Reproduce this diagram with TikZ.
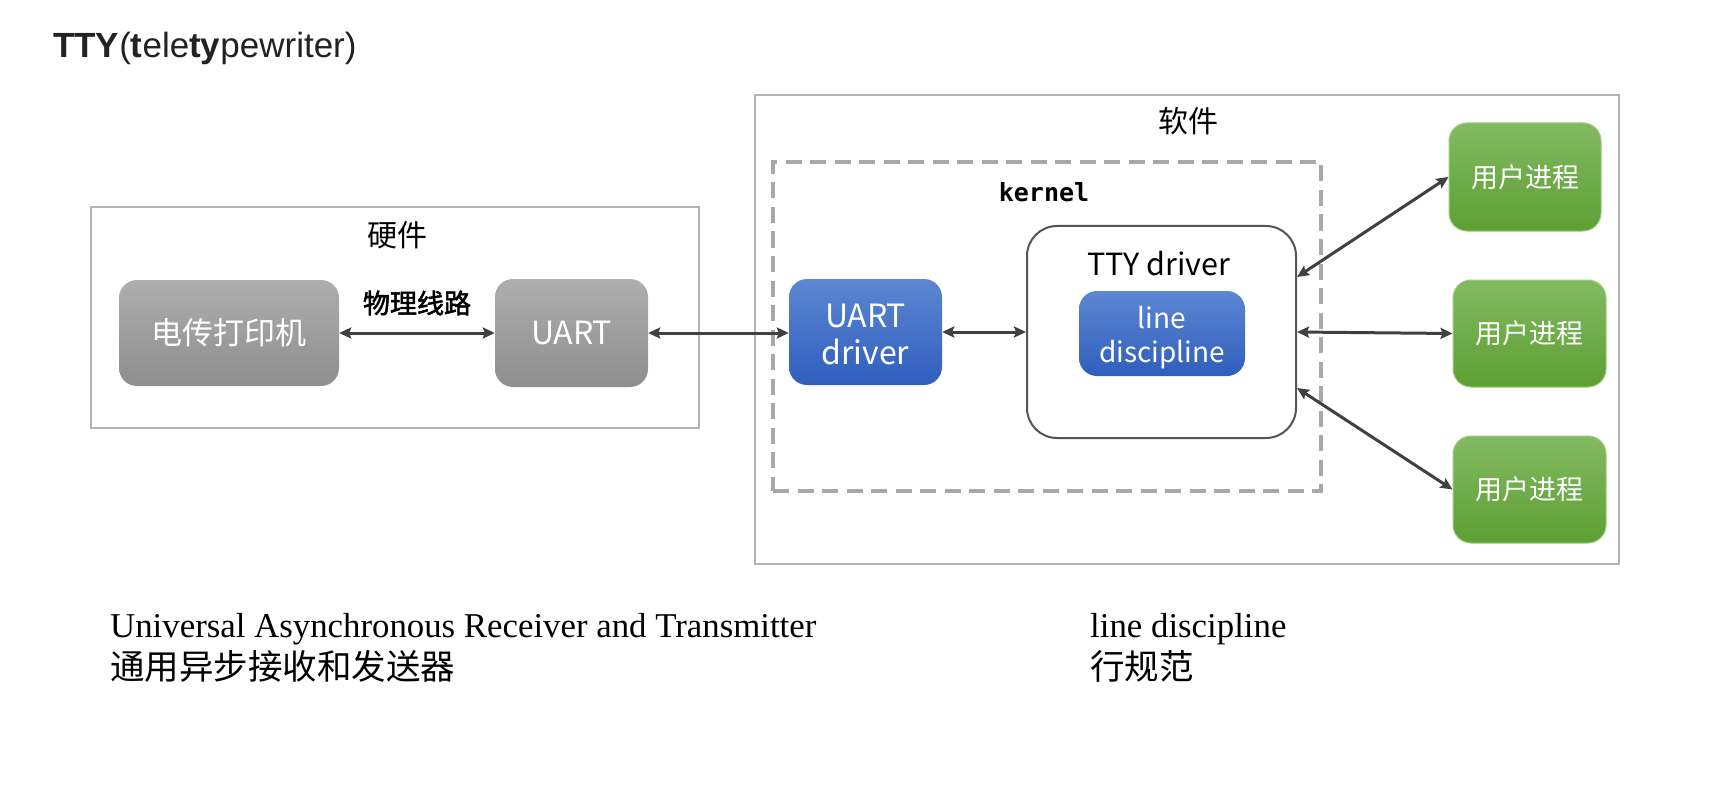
\documentclass[tikz,border=0pt]{standalone}
\usepackage{fontspec}
\setmainfont{Liberation Serif}
\newfontfamily\sansf{Liberation Sans}
\newfontfamily\cjk{Noto Sans CJK SC}
\newfontfamily\cjkfb{Noto Sans CJK SC}[FakeBold=2]
\newfontfamily\monof{DejaVu Sans Mono}
\usetikzlibrary{arrows.meta}
\definecolor{framegray}{HTML}{B4B4B4}
\definecolor{dashgray}{HTML}{A8A8A8}
\definecolor{gtop}{HTML}{AEAEAE}
\definecolor{gbot}{HTML}{8E8E8E}
\definecolor{btop}{HTML}{5D87D3}
\definecolor{bbot}{HTML}{2F5EBD}
\definecolor{ntop}{HTML}{82BA62}
\definecolor{nbot}{HTML}{5E9F33}
\definecolor{nedge}{HTML}{9CCB80}
\definecolor{ttyedge}{HTML}{555555}
\definecolor{arrowc}{HTML}{404040}
\definecolor{titlec}{HTML}{222222}
\tikzset{
  frame/.style={draw=framegray, line width=2.5pt, inner sep=0pt},
  kframe/.style={draw=dashgray, line width=3.5pt, dash pattern=on 16pt off 8.5pt, inner sep=0pt},
  graybox/.style={rounded corners=18pt, top color=gtop, bottom color=gbot, text=white, inner sep=0pt},
  bluebox/.style={rounded corners=18pt, top color=btop, bottom color=bbot, inner sep=0pt},
  bluetext/.style={text=white, inner sep=0pt, align=center},
  greenbox/.style={rounded corners=18pt, top color=ntop, bottom color=nbot, draw=nedge, line width=1pt, text=white, inner sep=0pt},
  ttybox/.style={draw=ttyedge, line width=2pt, rounded corners=30pt, fill=white, inner sep=0pt},
  conn/.style={draw=arrowc, line width=3pt, {Stealth[length=12pt,width=11pt,inset=2pt]}-{Stealth[length=12pt,width=11pt,inset=2pt]}},
  lbl/.style={inner sep=0pt},
}
\begin{document}
\begin{tikzpicture}[x=1pt,y=-1pt]
\fill[white] (0,0) rectangle (1721,805);
\useasboundingbox (0,0) rectangle (1721,805);

% title
\node[lbl, anchor=base west, text=titlec, font=\sansf\fontsize{35}{40}\selectfont] (title) at (53,58)
  {\textbf{TTY}(\textbf{t}ele\textbf{ty}pewriter)};

% hardware
\node[frame, minimum width=608pt, minimum height=221pt] (hw) at (395,317.5) {};
\node[lbl, font=\cjk\fontsize{30}{34}\selectfont] (hwl) at (397,235) {硬件};
\node[graybox, minimum width=220pt, minimum height=106pt, font=\cjk\fontsize{31}{34}\selectfont] (tele) at (229,333) {电传打印机};
\node[graybox, minimum width=153pt, minimum height=108pt, font=\cjk\fontsize{32}{37}\selectfont] (uart) at (571.5,333) {UART};
\node[lbl, font=\cjkfb\fontsize{27}{31}\selectfont] (wire) at (417,303) {物理线路};

% software
\node[frame, minimum width=864pt, minimum height=469pt] (sw) at (1187,329.5) {};
\node[lbl, font=\cjk\fontsize{30}{34}\selectfont] (swl) at (1188,121) {软件};
\node[kframe, minimum width=548pt, minimum height=329pt] (kern) at (1047,326.5) {};
\node[lbl, font=\monof\bfseries\fontsize{25}{30}\selectfont] (kernl) at (1044,192) {kernel};
\node[bluebox, minimum width=153pt, minimum height=106pt] (uartdrv) at (865.5,332) {};
\node[bluetext, font=\cjk\fontsize{32}{37}\selectfont] (uartdrvt) at (865.5,334) {UART\\driver};
\node[ttybox, minimum width=269pt, minimum height=212pt] (tty) at (1161.5,332) {};
\node[lbl, anchor=base, font=\cjk\fontsize{30.5}{36}\selectfont] (ttyl) at (1159,275) {TTY driver};
\node[bluebox, minimum width=166pt, minimum height=85pt] (ld) at (1162,333.5) {};
\node[bluetext, font=\cjk\fontsize{28}{34}\selectfont] (ldt) at (1162,338) {line\\discipline};

\node[greenbox, minimum width=152pt, minimum height=108pt, font=\cjk\fontsize{27}{31}\selectfont] (p1) at (1525,177) {用户进程};
\node[greenbox, minimum width=153pt, minimum height=107pt, font=\cjk\fontsize{27}{31}\selectfont] (p2) at (1529.5,333.5) {用户进程};
\node[greenbox, minimum width=153pt, minimum height=107pt, font=\cjk\fontsize{27}{31}\selectfont] (p3) at (1529.5,489.5) {用户进程};

% connectors
\draw[conn] (tele.east) -- (uart.west);
\draw[conn] (uart.east) -- (uartdrv.west |- uart.east);
\draw[conn] (uartdrv.east) -- (tty.west |- uartdrv.east);
\draw[conn] ([yshift=55pt]tty.east) -- (p1.west);
\draw[conn] (tty.east) -- (p2.west);
\draw[conn] ([yshift=-56pt]tty.east) -- (p3.west);

% notes
\node[lbl, anchor=base west, font=\fontsize{34.8}{40}\selectfont] (uartfull) at (110,637) {Universal Asynchronous Receiver and Transmitter};
\node[lbl, anchor=west, font=\cjk\fontsize{34.5}{40}\selectfont] (uartzh) at (110,666) {通用异步接收和发送器};
\node[lbl, anchor=base west, font=\fontsize{34.8}{40}\selectfont] (ldfull) at (1090,637) {line discipline};
\node[lbl, anchor=west, font=\cjk\fontsize{34.5}{40}\selectfont] (ldzh) at (1090,666) {行规范};
\end{tikzpicture}
\end{document}
